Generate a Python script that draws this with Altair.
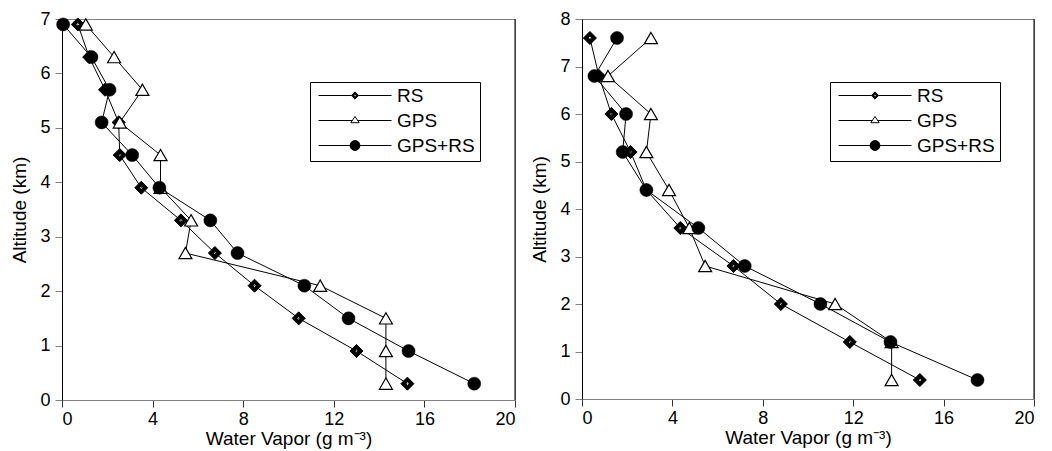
import altair as alt
import pandas as pd

series_names = ["RS", "GPS", "GPS+RS"]

# Left panel
alt_left = [6.9, 6.3, 5.7, 5.1, 4.5, 3.9, 3.3, 2.7, 2.1, 1.5, 0.9, 0.3]
rs_left = [0.7, 1.2, 1.9, 2.5, 2.55, 3.5, 5.25, 6.75, 8.5, 10.45, 13.0, 15.25]
gps_left = [1.05, 2.3, 3.55, 2.55, 4.35, 4.35, 5.7, 5.45, 11.4, 14.3, 14.3, 14.3]
gpsrs_left = [0.05, 1.3, 2.1, 1.75, 3.1, 4.3, 6.55, 7.75, 10.7, 12.65, 15.3, 18.2]

# Right panel
alt_right = [7.6, 6.8, 6.0, 5.2, 4.4, 3.6, 2.8, 2.0, 1.2, 0.4]
rs_right = [0.35, 0.75, 1.3, 2.15, 2.85, 4.35, 6.7, 8.8, 11.85, 14.95]
gps_right = [3.05, 1.15, 3.05, 2.85, 3.85, 4.75, 5.45, 11.2, 13.7, 13.7]
gpsrs_right = [1.55, 0.55, 1.95, 1.8, 2.85, 5.15, 7.2, 10.55, 13.65, 17.5]

x_ticks = [0, 4, 8, 12, 16, 20]
x_title = "Water Vapor (g m\u207b\u00b3)"
y_title = "Altitude (km)"

FONT = "Liberation Sans"
FS = 18
TFS = 19

DIAMOND_HOLE = "M-1,0L0,-1L1,0L0,1Z M-0.28,0L0,0.28L0.28,0L0,-0.28Z"
LEG_RS = ("M-1,0L-0.1,0M0.1,0L1,0"
          "M-0.1,0L0,-0.1L0.1,0L0,0.1Z"
          "M-0.032,0L0,0.032L0.032,0L0,-0.032Z")
LEG_GPS = "M-1,0L-0.075,0M0.075,0L1,0M-0.115,0.06L0.115,0.06L0,-0.11Z"
LEG_GPSRS = ("M-1,0L-0.135,0M0.135,0L1,0"
             "M-0.135,0A0.135,0.135,0,1,0,0.135,0A0.135,0.135,0,1,0,-0.135,0Z")


def panel(alts, rs, gps, gpsrs, ymax, width, height):
    rows = []
    for name, vals in zip(series_names, [rs, gps, gpsrs]):
        for a, v in zip(alts, vals):
            rows.append({"series": name, "altitude": a, "vapor": v})
    df = pd.DataFrame(rows)

    x = alt.X("vapor:Q", scale=alt.Scale(domain=[0, 20], nice=False, zero=False),
              axis=alt.Axis(values=x_ticks, title=x_title, format="d",
                            domainColor="#808080", tickColor="#333333",
                            labelPadding=3, titlePadding=1))
    y = alt.Y("altitude:Q", scale=alt.Scale(domain=[0, ymax], nice=False, zero=False),
              axis=alt.Axis(values=list(range(ymax + 1)), title=y_title, format="d",
                            domainColor="black", tickColor="#808080",
                            labelPadding=5, titlePadding=10))
    base = alt.Chart(df).encode(x=x, y=y)

    lines = base.mark_line(color="black", strokeWidth=1).encode(
        detail="series:N", order="altitude:Q")
    rs_pts = base.transform_filter(alt.datum.series == "RS").mark_point(
        shape=DIAMOND_HOLE, size=170, filled=True, fill="black",
        stroke="black", strokeWidth=1, opacity=1)
    gps_pts = base.transform_filter(alt.datum.series == "GPS").mark_point(
        shape="triangle-up", size=169, filled=True, fill="white",
        stroke="black", strokeWidth=1.2, opacity=1)
    gpsrs_pts = base.transform_filter(alt.datum.series == "GPS+RS").mark_point(
        shape="circle", size=170, filled=True, fill="black",
        stroke="black", strokeWidth=0.5, opacity=1)

    border = alt.Chart(pd.DataFrame({"k": [0]})).mark_rule(
        color="black", strokeWidth=1).encode(
        x=alt.datum(20), y=alt.datum(0), y2=alt.datum(ymax))

    leg = alt.Legend(orient="none", legendX=248, legendY=63, title=None,
                     strokeColor="black", fillColor="white", padding=5,
                     labelFont=FONT, labelFontSize=19, labelColor="black",
                     symbolSize=5329, symbolStrokeWidth=1, symbolOpacity=1,
                     clipHeight=17, rowPadding=5, labelOffset=5, symbolOffset=3)
    legend_layer = alt.Chart(pd.DataFrame({"series": series_names})).transform_filter(
        "false").mark_point(filled=True, opacity=1).encode(
        shape=alt.Shape("series:N", scale=alt.Scale(
            domain=series_names, range=[LEG_RS, LEG_GPS, LEG_GPSRS]), legend=leg),
        fill=alt.Fill("series:N", scale=alt.Scale(
            domain=series_names, range=["black", "white", "black"]), legend=leg),
        stroke=alt.Stroke("series:N", scale=alt.Scale(
            domain=series_names, range=["black", "black", "black"]), legend=leg),
    )

    return alt.layer(lines, rs_pts, gps_pts, gpsrs_pts, border, legend_layer).properties(
        width=width, height=height)


left = panel(alt_left, rs_left, gps_left, gpsrs_left, 7, 453, 381)
right = panel(alt_right, rs_right, gps_right, gpsrs_right, 8, 452, 380)

chart = alt.hconcat(left, right, spacing=14).resolve_scale(
    shape="independent", fill="independent", stroke="independent"
).properties(
    padding={"left": 2, "top": 1, "right": 0, "bottom": 0}
).configure_view(
    stroke="#808080", strokeWidth=1
).configure_axis(
    labelFont=FONT, titleFont=FONT, labelFontSize=FS, titleFontSize=TFS,
    titleFontWeight="normal", labelColor="black", titleColor="black",
    grid=False, tickSize=7, domainWidth=1, tickWidth=1
)

chart.save("out.html", embed_options={"renderer": "svg", "actions": False})
